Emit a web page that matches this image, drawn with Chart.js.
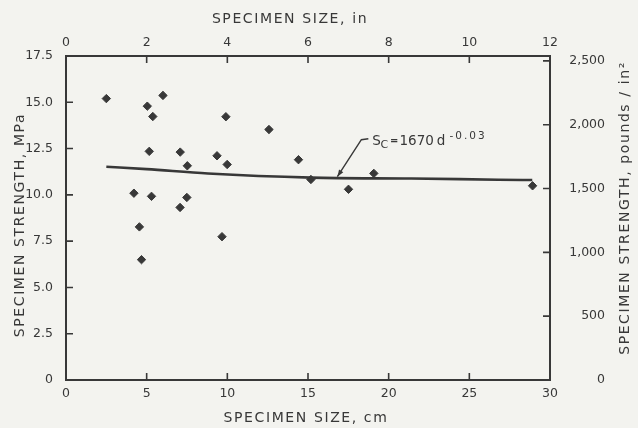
<!DOCTYPE html>
<html><head><meta charset="utf-8">
<script src="https://cdn.jsdelivr.net/npm/chart.js@4.4.0/dist/chart.umd.min.js"></script>
<style>
html,body{margin:0;padding:0;background:#f3f3ef;}
#wrap{width:638px;height:428px;position:relative;overflow:hidden;}
canvas{display:block;}
</style></head><body>
<div id="wrap"><canvas id="c" width="638" height="428"></canvas></div>
<script>
// ---- data ----
const sizeCm      = [2.50, 5.04, 6.01, 5.38, 9.91, 12.58, 5.16, 7.08, 9.36, 7.52, 9.99, 14.41, 15.18, 4.21, 5.30, 7.49, 7.07, 4.55, 9.67, 4.68, 17.51, 19.08, 28.92];
const strengthMPa = [15.20, 14.79, 15.37, 14.23, 14.22, 13.53, 12.35, 12.31, 12.11, 11.57, 11.64, 11.90, 10.83, 10.09, 9.92, 9.86, 9.32, 8.27, 7.74, 6.50, 10.30, 11.16, 10.49];
const fitCm  = [2.5, 5.0, 8.8, 15.2, 21.4, 26.8, 28.9];
const fitMPa = [11.52, 11.39, 11.15, 10.93, 10.88, 10.82, 10.80];
const cmTicks   = [0, 5, 10, 15, 20, 25, 30];
const inchTicks = [0, 2, 4, 6, 8, 10, 12];
const mpaTicks  = [0, 2.5, 5, 7.5, 10, 12.5, 15, 17.5];
const psiTicks  = [0, 500, 1000, 1500, 2000, 2500];
const MPA_TO_PSI = 145.038;
const titleBottom = 'SPECIMEN SIZE, cm';
const titleTop    = 'SPECIMEN SIZE, in';
const titleLeft   = 'SPECIMEN STRENGTH, MPa';
const titleRight  = 'SPECIMEN STRENGTH, pounds / in\u00B2';
const eqMain = ['S', 'C', '=', '1670', 'd', '-0.03'];

const INK = '#383838';
const FONT = 'DejaVu Sans';

function setTicks(arr){ return function(scale){ scale.ticks = arr.map(v => ({value: v})); }; }

const extras = {
  id: 'extras',
  afterDraw(chart){
    const ctx = chart.ctx, a = chart.chartArea;
    const sx = chart.scales.x, sx2 = chart.scales.x2, sy = chart.scales.y, sy2 = chart.scales.y2;
    ctx.save();
    // inward tick marks
    ctx.strokeStyle = INK; ctx.lineWidth = 1.6;
    const L = 7;
    ctx.beginPath();
    sx.ticks.forEach(t => { if (t.value > sx.min && t.value < sx.max) { const p = sx.getPixelForValue(t.value); ctx.moveTo(p, a.bottom); ctx.lineTo(p, a.bottom - L); } });
    sx2.ticks.forEach(t => { if (t.value > sx2.min && t.value < sx2.max) { const p = sx2.getPixelForValue(t.value); ctx.moveTo(p, a.top); ctx.lineTo(p, a.top + L); } });
    sy.ticks.forEach(t => { if (t.value > sy.min && t.value < sy.max) { const p = sy.getPixelForValue(t.value); ctx.moveTo(a.left, p); ctx.lineTo(a.left + L, p); } });
    sy2.ticks.forEach(t => { if (t.value > sy2.min && t.value < sy2.max) { const p = sy2.getPixelForValue(t.value); ctx.moveTo(a.right, p); ctx.lineTo(a.right - L, p); } });
    ctx.stroke();

    // axis titles
    ctx.fillStyle = INK;
    ctx.textAlign = 'center'; ctx.textBaseline = 'middle';
    ctx.font = '14px "' + FONT + '"';
    try { ctx.letterSpacing = '1.6px'; } catch(e) {}
    ctx.fillText(titleTop, 290, 19);
    ctx.fillText(titleBottom, 306, 418);
    ctx.save(); ctx.translate(20, 225); ctx.rotate(-Math.PI/2); ctx.fillText(titleLeft, 0, 0); ctx.restore();
    ctx.save(); ctx.translate(625, 208); ctx.rotate(-Math.PI/2); ctx.fillText(titleRight, 0, 0); ctx.restore();
    try { ctx.letterSpacing = '0px'; } catch(e) {}

    // equation annotation with leader
    const ax = sx.getPixelForValue(16.82), ay = sy.getPixelForValue(10.98);
    const bx = ax + 24, by = ay - 37, cx = bx + 7;
    ctx.lineWidth = 1.4;
    ctx.beginPath(); ctx.moveTo(ax, ay); ctx.lineTo(bx, by); ctx.lineTo(cx, by - 1); ctx.stroke();
    // arrow head
    const ang = Math.atan2(ay - by, ax - bx);
    ctx.beginPath();
    ctx.moveTo(ax, ay);
    ctx.lineTo(ax - 7*Math.cos(ang) + 2.5*Math.sin(ang), ay - 7*Math.sin(ang) - 2.5*Math.cos(ang));
    ctx.lineTo(ax - 7*Math.cos(ang) - 2.5*Math.sin(ang), ay - 7*Math.sin(ang) + 2.5*Math.cos(ang));
    ctx.closePath(); ctx.fill();
    ctx.textAlign = 'left'; ctx.textBaseline = 'alphabetic';
    let x = cx + 4; const base = by + 5.5;
    ctx.font = '13.5px "' + FONT + '"';
    ctx.fillText(eqMain[0], x, base); x += ctx.measureText(eqMain[0]).width - 0.5;
    ctx.font = '11px "' + FONT + '"';
    ctx.fillText(eqMain[1], x, base + 3); x += ctx.measureText(eqMain[1]).width + 2;
    ctx.font = 'bold 10px "' + FONT + '"';
    ctx.fillText(eqMain[2], x, base - 1); x += ctx.measureText(eqMain[2]).width + 1;
    ctx.font = '13.5px "' + FONT + '"';
    ctx.fillText(eqMain[3], x, base); x += ctx.measureText(eqMain[3]).width + 3;
    ctx.fillText(eqMain[4], x, base); x += ctx.measureText(eqMain[4]).width + 4;
    ctx.font = '10.5px "' + FONT + '"';
    try { ctx.letterSpacing = '2px'; } catch(e) {}
    ctx.fillText(eqMain[5], x, base - 6.5);
    try { ctx.letterSpacing = '0px'; } catch(e) {}
    ctx.restore();
  }
};

const tickFont = {family: FONT, size: 12.5};

new Chart(document.getElementById('c'), {
  type: 'scatter',
  data: {
    datasets: [
      {
        label: 'Specimens',
        data: sizeCm.map((x, i) => ({x: x, y: strengthMPa[i]})),
        pointStyle: 'rectRot',
        pointRadius: 4.2,
        pointHoverRadius: 4.2,
        backgroundColor: INK,
        borderColor: INK,
        borderWidth: 1,
        xAxisID: 'x', yAxisID: 'y'
      },
      {
        label: 'Fit',
        type: 'line',
        data: fitCm.map((x, i) => ({x: x, y: fitMPa[i]})),
        borderColor: INK,
        borderWidth: 2.6,
        pointRadius: 0,
        tension: 0.4,
        cubicInterpolationMode: 'monotone',
        fill: false,
        xAxisID: 'x', yAxisID: 'y'
      }
    ]
  },
  options: {
    responsive: false,
    animation: false,
    devicePixelRatio: 1,
    layout: {padding: {left: 0, right: 33, top: 0, bottom: 0}},
    plugins: {legend: {display: false}, tooltip: {enabled: false}},
    scales: {
      x: {
        type: 'linear', position: 'bottom', min: 0, max: 30,
        afterBuildTicks: setTicks(cmTicks),
        afterFit: s => { s.height = 48; },
        grid: {display: false, drawTicks: false},
        border: {display: true, color: INK, width: 2},
        ticks: {color: INK, font: tickFont, padding: 6, maxRotation: 0, callback: v => String(v)}
      },
      x2: {
        type: 'linear', position: 'top', min: 0, max: 12,
        afterBuildTicks: setTicks(inchTicks),
        afterFit: s => { s.height = 56; },
        grid: {display: false, drawTicks: false},
        border: {display: true, color: INK, width: 2},
        ticks: {color: INK, font: tickFont, padding: 6, maxRotation: 0, callback: v => String(v)}
      },
      y: {
        type: 'linear', position: 'left', min: 0, max: 17.5,
        afterBuildTicks: setTicks(mpaTicks),
        afterFit: s => { s.width = 66; },
        grid: {display: false, drawTicks: false},
        border: {display: true, color: INK, width: 2},
        ticks: {color: INK, font: tickFont, padding: 13, callback: v => v === 0 ? '0' : v.toFixed(1)}
      },
      y2: {
        type: 'linear', position: 'right', min: 0, max: 17.5 * MPA_TO_PSI,
        afterBuildTicks: setTicks(psiTicks),
        afterFit: s => { s.width = 55; },
        grid: {display: false, drawTicks: false},
        border: {display: true, color: INK, width: 2},
        ticks: {color: INK, font: tickFont, padding: 8, crossAlign: 'far', callback: v => v.toLocaleString('en-US')}
      }
    }
  },
  plugins: [extras]
});
</script>
</body></html>
